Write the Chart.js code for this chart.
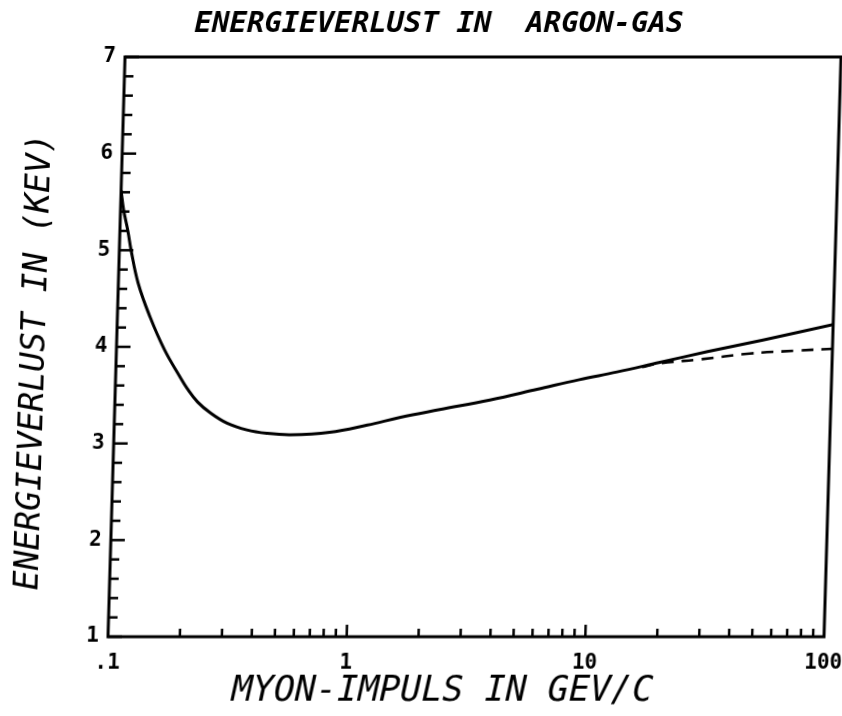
<!DOCTYPE html>
<html>
<head>
<meta charset="utf-8">
<title>Energieverlust in Argon-Gas</title>
<script src="https://cdn.jsdelivr.net/npm/chart.js@4.4.1/dist/chart.umd.min.js"></script>
<style>
    html, body { margin: 0; padding: 0; background: #fff; }
    #wrap { width: 842px; height: 716px; overflow: hidden; }
    /* the scanned original is slightly sheared: top edge sits ~17px right of the bottom */
    #energyChart { display: block; transform: skewX(-1.68deg); transform-origin: 0 637px; }
</style>
</head>
<body>
<div id="wrap"><canvas id="energyChart" width="842" height="716"></canvas></div>
<script>
// momentum in GeV/c, energy loss in keV
var momentum = [0.1, 0.103, 0.108, 0.112, 0.121, 0.137, 0.159, 0.186, 0.2, 0.222, 0.251, 0.297, 0.36, 0.437, 0.55, 0.8, 1.15, 1.58, 2.3, 3.72, 5.85, 8.77, 12.6, 19, 30, 51, 100];
var energyLoss = [5.62, 5.42, 5.2, 5.0, 4.66, 4.31, 3.97, 3.69, 3.57, 3.43, 3.32, 3.21, 3.14, 3.105, 3.09, 3.115, 3.19, 3.27, 3.35, 3.45, 3.56, 3.66, 3.74, 3.84, 3.95, 4.07, 4.23];

// dashed branch (flattens out above ~20 GeV/c)
var momentumDashed = [16, 19, 28, 45, 70, 100];
var energyLossDashed = [3.79, 3.83, 3.87, 3.93, 3.96, 3.98];

var xTickValues = [0.1, 1, 10, 100];
var xTickLabels = ['.1', '1', '10', '100'];
var yTickValues = [1, 2, 3, 4, 5, 6, 7];
var yTickLabels = ['1', '2', '3', '4', '5', '6', '7'];

var TITLE = 'ENERGIEVERLUST IN  ARGON-GAS';
var X_TITLE = 'MYON-IMPULS IN GEV/C';
var Y_TITLE = 'ENERGIEVERLUST IN (KEV)';

(function () {
    'use strict';

    function toPoints(xs, ys) {
        return xs.map(function (x, i) { return { x: x, y: ys[i] }; });
    }

    /* ===== frame, inward ticks and all texts ===== */
    var framePlugin = {
        id: 'plotterFrame',
        afterDatasetsDraw: function (chart) {
            var ctx = chart.ctx;
            var area = chart.chartArea;
            var xs = chart.scales.x;
            var ys = chart.scales.y;
            var i, k, px, py, len;

            ctx.save();
            ctx.strokeStyle = '#000';
            ctx.fillStyle = '#000';
            ctx.lineWidth = 3;
            ctx.lineCap = 'butt';
            ctx.strokeRect(area.left, area.top, area.right - area.left, area.bottom - area.top);

            // y ticks every 0.2, longer at whole numbers
            ctx.lineWidth = 2.5;
            for (i = 0; i <= 30; i++) {
                py = ys.getPixelForValue(1 + i * 0.2);
                len = (i % 5 === 0) ? 14 : 9;
                ctx.beginPath();
                ctx.moveTo(area.left, py);
                ctx.lineTo(area.left + len, py);
                ctx.stroke();
            }

            // x ticks at 1..9 of each decade
            for (i = 0; i < xTickValues.length - 1; i++) {
                for (k = 1; k <= 9; k++) {
                    if (i === 0 && k === 1) continue;
                    px = xs.getPixelForValue(xTickValues[i] * k);
                    len = (k === 1) ? 12 : 8;
                    ctx.beginPath();
                    ctx.moveTo(px, area.bottom);
                    ctx.lineTo(px, area.bottom - len);
                    ctx.stroke();
                }
            }

            // tick labels
            ctx.font = 'bold 21px "DejaVu Sans Mono", monospace';
            ctx.textBaseline = 'middle';
            ctx.textAlign = 'right';
            yTickValues.forEach(function (v, j) {
                ctx.fillText(yTickLabels[j], area.left - 9, ys.getPixelForValue(v));
            });
            ctx.textAlign = 'center';
            xTickValues.forEach(function (v, j) {
                ctx.fillText(xTickLabels[j], xs.getPixelForValue(v), area.bottom + 27);
            });

            // titles
            ctx.font = 'italic bold 29px "DejaVu Sans Mono", monospace';
            ctx.fillText(TITLE, chart.width / 2, 24);

            ctx.font = 'italic 35px "DejaVu Sans Mono", monospace';
            ctx.fillText(X_TITLE, 444, 692);

            ctx.save();
            ctx.translate(27, 362);
            ctx.rotate(-Math.PI / 2);
            ctx.font = 'italic 33px "DejaVu Sans Mono", monospace';
            ctx.fillText(Y_TITLE, 0, 0);
            ctx.restore();

            ctx.restore();
        }
    };

    function init() {
        var el = document.getElementById('energyChart');
        new Chart(el, {
            type: 'line',
            data: {
                datasets: [
                    {
                        label: 'Energieverlust',
                        data: toPoints(momentum, energyLoss),
                        borderColor: '#000',
                        borderWidth: 3,
                        tension: 0.4,
                        pointRadius: 0,
                        fill: false,
                    },
                    {
                        label: 'gestrichelt',
                        data: toPoints(momentumDashed, energyLossDashed),
                        borderColor: '#000',
                        borderWidth: 2.6,
                        borderDash: [12, 8],
                        tension: 0.4,
                        pointRadius: 0,
                        fill: false,
                    },
                ],
            },
            options: {
                responsive: false,
                animation: false,
                layout: { padding: { left: 108, right: 18, top: 57, bottom: 79 } },
                plugins: {
                    legend: { display: false },
                    tooltip: { enabled: false },
                    title: { display: false },
                },
                scales: {
                    x: { type: 'logarithmic', min: 0.1, max: 100, display: false },
                    y: { type: 'linear', min: 1, max: 7, display: false },
                },
            },
            plugins: [framePlugin],
        });
    }

    if (document.readyState === 'loading') {
        document.addEventListener('DOMContentLoaded', init);
    } else {
        init();
    }
})();
</script>
</body>
</html>
